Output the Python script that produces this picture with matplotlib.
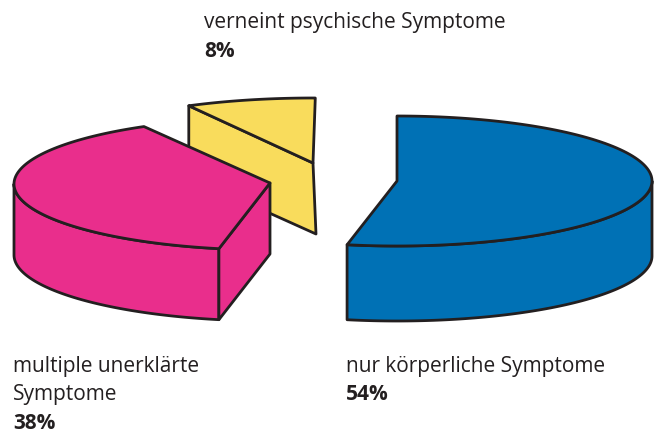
import numpy as np
import matplotlib
matplotlib.use("Agg")
import matplotlib.pyplot as plt
from matplotlib.patches import Polygon

categories = ["nur körperliche Symptome", "multiple unerklärte\nSymptome", "verneint psychische Symptome"]
values = [54, 38, 8]

BLUE, PINK, YELLOW, EDGE = "#0071B5", "#E92E8C", "#F9DC5C", "#231F20"
A, B = 256, 65
LW = 2.0

plt.rcParams["font.family"] = ["Open Sans", "DejaVu Sans"]
fig = plt.figure(figsize=(6.61, 4.34), dpi=100)
ax = fig.add_axes([0, 0, 1, 1])
ax.set_xlim(0, 661)
ax.set_ylim(434, 0)
ax.axis("off")


def arc(cx, cy, a0, a1, dy=0, a=A, b=B):
    t = np.radians(np.linspace(a0, a1, 120))
    return np.column_stack([cx + a * np.cos(t), cy - b * np.sin(t) + dy])


def poly(pts, color, z):
    ax.add_patch(Polygon(pts, closed=True, facecolor=color, edgecolor=EDGE,
                         linewidth=LW, joinstyle="round", zorder=z))


# yellow slice (behind the pink one)
cx, cy = 313, 163
a0 = 89.5
a1 = a0 + values[2] * 3.6
top = arc(cx, cy, a0, a1, a=262)
d = 71
poly([top[-1], (cx, cy), (cx + 3, cy + d), (top[-1][0], top[-1][1] + d)], YELLOW, 1)
poly(np.vstack([top, [(cx, cy)]]), YELLOW, 2)

# pink slice
cx, cy = 270, 183
a0 = 119.5
a1 = a0 + values[1] * 3.6 * 1.016
d = 71
top = arc(cx, cy + 1, a0, a1, b=66)
side = arc(cx, cy + 1, 180, a1, b=66)
poly(np.vstack([side, arc(cx, cy + 1, a1, 180, d, b=66)]), PINK, 3)
poly([top[-1], (cx, cy), (cx, cy + d), (top[-1][0], top[-1][1] + d)], PINK, 3)
poly(np.vstack([top, [(cx, cy)]]), PINK, 4)

# blue slice
cx, cy = 397, 181
a0 = 90
a1 = a0 - values[0] * 3.6 * 0.984
d = 75
top = arc(cx, cy, a0, a1, a=255)
poly(np.vstack([arc(cx, cy, 0, a1, a=255), arc(cx, cy, a1, 0, d, a=255)]), BLUE, 3)
poly(np.vstack([top, [(cx, cy)]]), BLUE, 4)

# labels
fs = 15
kw = dict(fontsize=fs, color="#231F20", va="baseline", ha="left")
bold = dict(fontsize=fs, color="#231F20", va="baseline", ha="left", fontweight="bold")
ax.text(204, 28, categories[2], **kw)
ax.text(204, 57, f"{values[2]}%", **bold)
ax.text(13, 372, "multiple unerklärte", **kw)
ax.text(13, 400, "Symptome", **kw)
ax.text(13, 429, f"{values[1]}%", **bold)
ax.text(346, 372, categories[0], **kw)
ax.text(346, 400, f"{values[0]}%", **bold)

fig.savefig("out.png", dpi=100)
